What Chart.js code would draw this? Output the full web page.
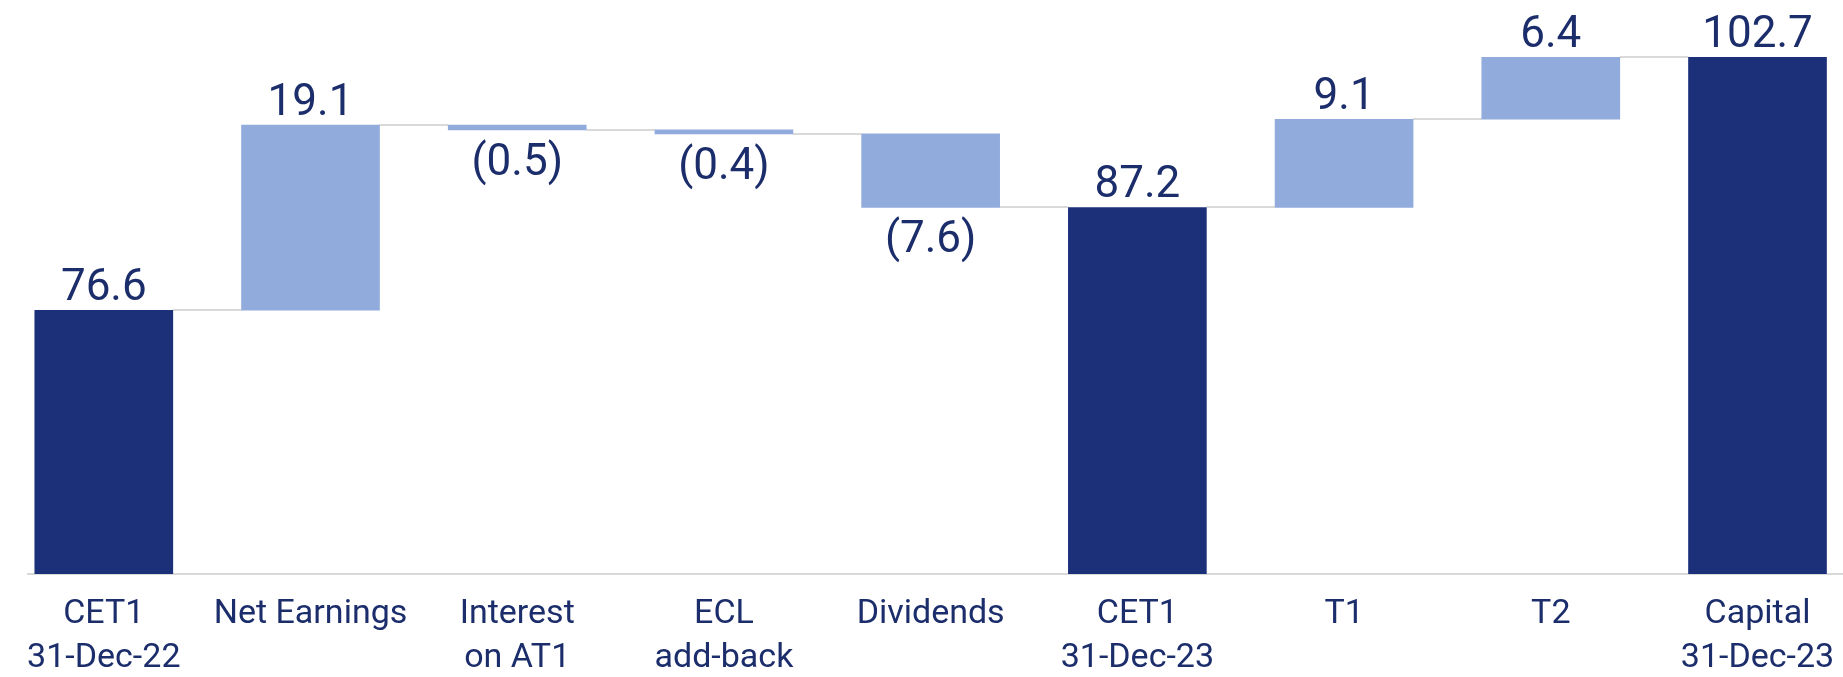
<!DOCTYPE html>
<html>
<head>
<meta charset="utf-8">
<script src="https://cdn.jsdelivr.net/npm/chart.js@4.4.1/dist/chart.umd.min.js"></script>
<style>
  html, body { margin: 0; padding: 0; background: #fff; overflow: hidden; }
  #wrap { width: 1843px; height: 677px; }
</style>
</head>
<body>
<div id="wrap"><canvas id="chart" width="1843" height="677"></canvas></div>
<script>
// waterfall data
const categories = [
  ['CET1', '31-Dec-22'],
  'Net Earnings',
  ['Interest', 'on AT1'],
  ['ECL', 'add-back'],
  'Dividends',
  ['CET1', '31-Dec-23'],
  'T1',
  'T2',
  ['Capital', '31-Dec-23']
];
const changes = [76.6, 19.1, -0.5, -0.4, -7.6, 87.2, 9.1, 6.4, 102.7];
const isTotal = [true, false, false, false, false, true, false, false, true];
const valueLabels = ['76.6', '19.1', '(0.5)', '(0.4)', '(7.6)', '87.2', '9.1', '6.4', '102.7'];

const darkBlue = '#1b3079';
const lightBlue = '#91acdc';
const textColor = '#1b2d6b';
const lineGrey = '#d9d9d9';

// build floating ranges from the running total
let running = 0;
const ranges = changes.map((v, i) => {
  if (isTotal[i]) {
    running = v;
    return { x: i, y: [0, v] };
  }
  const start = running;
  running = start + v;
  return { x: i, y: [start, running] };
});

const connectors = {
  id: 'connectors',
  beforeDatasetsDraw(chart) {
    const ctx = chart.ctx;
    const meta = chart.getDatasetMeta(0);
    const yScale = chart.scales.y;
    ctx.save();
    ctx.strokeStyle = lineGrey;
    ctx.lineWidth = 2;
    for (let i = 0; i < meta.data.length - 1; i++) {
      const a = meta.data[i];
      const b = meta.data[i + 1];
      const level = ranges[i].y[1];
      const y = Math.round(yScale.getPixelForValue(level));
      ctx.beginPath();
      ctx.moveTo(a.x + a.width / 2, y);
      ctx.lineTo(b.x - b.width / 2, y);
      ctx.stroke();
    }
    ctx.restore();
  }
};

const valueText = {
  id: 'valueText',
  afterDatasetsDraw(chart) {
    const ctx = chart.ctx;
    const meta = chart.getDatasetMeta(0);
    ctx.save();
    ctx.font = '44px Roboto';
    ctx.fillStyle = textColor;
    ctx.textAlign = 'center';
    meta.data.forEach((bar, i) => {
      const top = Math.min(bar.y, bar.base);
      const bottom = Math.max(bar.y, bar.base);
      if (changes[i] < 0) {
        ctx.textBaseline = 'top';
        ctx.fillText(valueLabels[i], bar.x, bottom + 12);
      } else {
        ctx.textBaseline = 'alphabetic';
        ctx.fillText(valueLabels[i], bar.x, top - 10);
      }
    });
    ctx.restore();
  }
};

new Chart(document.getElementById('chart'), {
  type: 'bar',
  data: {
    datasets: [{
      data: ranges,
      backgroundColor: isTotal.map(t => t ? darkBlue : lightBlue),
      borderWidth: 0,
      barThickness: 138
    }]
  },
  options: {
    responsive: false,
    animation: false,
    layout: { padding: { left: 28, right: 0, top: 0, bottom: 0 } },
    plugins: {
      legend: { display: false },
      tooltip: { enabled: false }
    },
    scales: {
      x: {
        type: 'linear',
        offset: false,
        min: -0.3667,
        max: 8.4136,
        grid: { display: false, drawTicks: false },
        border: { display: true, color: lineGrey, width: 2 },
        afterBuildTicks: axis => {
          axis.ticks = categories.map((c, i) => ({ value: i }));
        },
        afterFit: axis => {
          // last label may overhang the edge, like the original
          axis.height = 103;
          axis.paddingLeft = 0;
          axis.paddingRight = 0;
        },
        ticks: {
          autoSkip: false,
          maxRotation: 0,
          padding: 18,
          color: textColor,
          font: { family: 'Roboto', size: 34, lineHeight: 1.3 },
          callback: v => categories[v]
        }
      },
      y: {
        display: false,
        min: 49.4,
        max: 108.6
      }
    }
  },
  plugins: [connectors, valueText]
});
</script>
</body>
</html>
